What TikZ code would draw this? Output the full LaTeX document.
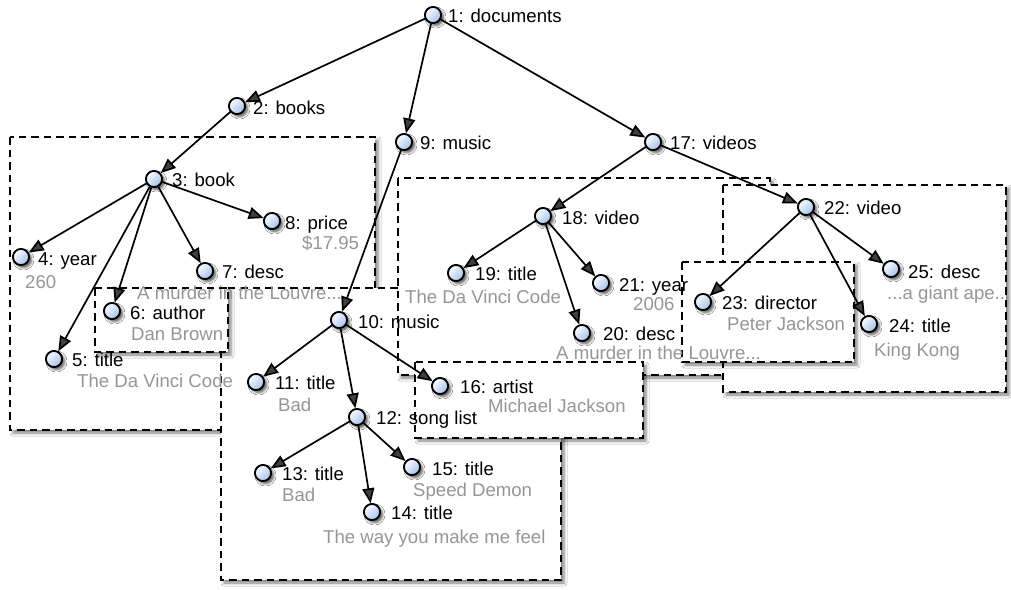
\documentclass[tikz,border=0pt]{standalone}
\usepackage{fontspec}
\setmainfont{Liberation Sans}
\usetikzlibrary{arrows.meta,shadows.blur}
\definecolor{knobhi}{RGB}{250,252,255}
\definecolor{knoblo}{RGB}{165,193,234}
\definecolor{valgray}{RGB}{150,150,150}
\begin{document}
\begin{tikzpicture}[x=1pt,y=-1pt,
  dot/.style={circle, draw=black, line width=1.7pt, minimum size=16pt, inner sep=0pt,
    top color=knobhi, bottom color=knoblo, shading angle=45,
    blur shadow={shadow xshift=2.5pt, shadow yshift=-2.5pt, shadow blur radius=2.5pt, shadow opacity=40}},
  lab/.style={anchor=base west, inner sep=0pt, text=black, font=\fontsize{18.6}{20}\selectfont},
  val/.style={anchor=base west, inner sep=0pt, text=valgray, font=\fontsize{18.6}{20}\selectfont},
  region/.style={draw=black, line width=1.8pt, dash pattern=on 7.5pt off 5pt, fill=white,
    blur shadow={shadow xshift=3pt, shadow yshift=-3pt, shadow blur radius=3pt, shadow opacity=50}},
  edge/.style={line width=1.7pt, -{Triangle[length=15pt,width=12pt]}}
]
\fill[white] (0,0) rectangle (1011,589);
\useasboundingbox (0,0) rectangle (1011,589);

% grouping regions, back to front
\path[region] (10,137) rectangle (375,430);
\path[region] (221,288) rectangle (561,580);
\path[region] (398,178) rectangle (770,375);
\path[region] (723,185) rectangle (1006,392);
\path[region] (682,262) rectangle (854,362);
\path[region] (415,362) rectangle (643,438);
\path[region] (95,288) rectangle (228,352);

% tree nodes
\node[dot] (n1) at (433,15) {};
\node[dot] (n2) at (237,106) {};
\node[dot] (n9) at (404,142) {};
\node[dot] (n17) at (653,142) {};
\node[dot] (n3) at (154,179) {};
\node[dot] (n4) at (21,257) {};
\node[dot] (n5) at (54,359) {};
\node[dot] (n6) at (112,311) {};
\node[dot] (n7) at (205,271) {};
\node[dot] (n8) at (272,221) {};
\node[dot] (n10) at (339,320) {};
\node[dot] (n11) at (256,382) {};
\node[dot] (n12) at (357,417) {};
\node[dot] (n13) at (263,473) {};
\node[dot] (n14) at (372,512) {};
\node[dot] (n15) at (412,467) {};
\node[dot] (n16) at (440,386) {};
\node[dot] (n18) at (543,216) {};
\node[dot] (n19) at (456,273) {};
\node[dot] (n20) at (582,333) {};
\node[dot] (n21) at (601,283) {};
\node[dot] (n22) at (806,207) {};
\node[dot] (n23) at (703,302) {};
\node[dot] (n24) at (869,324) {};
\node[dot] (n25) at (891,269) {};

% parent-child links
\draw[edge] (n1) -- (n2);
\draw[edge] (n1) -- (n9);
\draw[edge] (n1) -- (n17);
\draw[edge] (n2) -- (n3);
\draw[edge] (n3) -- (n4);
\draw[edge] (n3) -- (n5);
\draw[edge] (n3) -- (n6);
\draw[edge] (n3) -- (n7);
\draw[edge] (n3) -- (n8);
\draw[edge] (n9) -- (n10);
\draw[edge] (n10) -- (n11);
\draw[edge] (n10) -- (n12);
\draw[edge] (n10) -- (n16);
\draw[edge] (n12) -- (n13);
\draw[edge] (n12) -- (n14);
\draw[edge] (n12) -- (n15);
\draw[edge] (n17) -- (n18);
\draw[edge] (n17) -- (n22);
\draw[edge] (n18) -- (n19);
\draw[edge] (n18) -- (n20);
\draw[edge] (n18) -- (n21);
\draw[edge] (n22) -- (n23);
\draw[edge] (n22) -- (n24);
\draw[edge] (n22) -- (n25);

% redraw the dots above the links
\foreach \k in {1,...,25} {\path (n\k) node[dot] {};}

% element names
\node[lab] (l1) at (448,23) {1: documents};
\node[lab] (l2) at (253,114.5) {2: books};
\node[lab] (l9) at (420,149.5) {9: music};
\node[lab] (l17) at (670,149.5) {17: videos};
\node[lab] (l3) at (172,186.5) {3: book};
\node[lab] (l8) at (285,229.5) {8: price};
\node[lab] (l4) at (38,265.5) {4: year};
\node[lab] (l7) at (222,278.5) {7: desc};
\node[lab] (l6) at (130,319.5) {6: author};
\node[lab] (l5) at (72,366.5) {5: title};
\node[lab] (l10) at (358,328.5) {10: music};
\node[lab] (l11) at (275,389.5) {11: title};
\node[lab] (l12) at (376,424.5) {12: song list};
\node[lab] (l13) at (282,480.5) {13: title};
\node[lab] (l15) at (432,475.5) {15: title};
\node[lab] (l14) at (391,519.5) {14: title};
\node[lab] (l16) at (460,393.5) {16: artist};
\node[lab] (l18) at (562,224.5) {18: video};
\node[lab] (l19) at (475,280.5) {19: title};
\node[lab] (l21) at (619,291.5) {21: year};
\node[lab] (l20) at (603,340.5) {20: desc};
\node[lab] (l22) at (824,214.5) {22: video};
\node[lab] (l25) at (908,278.5) {25: desc};
\node[lab] (l23) at (722,309.5) {23: director};
\node[lab] (l24) at (889,332.5) {24: title};

% element values
\node[val] (v8) at (302,249.5) {\$17.95};
\node[val] (v4) at (25,288.5) {260};
\node[val] (v7) at (137,299.5) {A murder in the Louvre...};
\node[val] (v6) at (131,340.5) {Dan Brown};
\node[val] (v5) at (77,387.5) {The Da Vinci Code};
\node[val] (v11) at (278,411.5) {Bad};
\node[val] (v13) at (282,501.5) {Bad};
\node[val] (v15) at (413,496.5) {Speed Demon};
\node[val] (v14) at (323,543.5) {The way you make me feel};
\node[val] (v16) at (488,412.5) {Michael Jackson};
\node[val] (v19) at (405,303.5) {The Da Vinci Code};
\node[val] (v21) at (633,310.5) {2006};
\node[val] (v20) at (556,359.5) {A murder in the Louvre...};
\node[val] (v25) at (887,299.5) {...a giant ape...};
\node[val] (v23) at (727,330.5) {Peter Jackson};
\node[val] (v24) at (874,356.5) {King Kong};
\end{tikzpicture}
\end{document}
